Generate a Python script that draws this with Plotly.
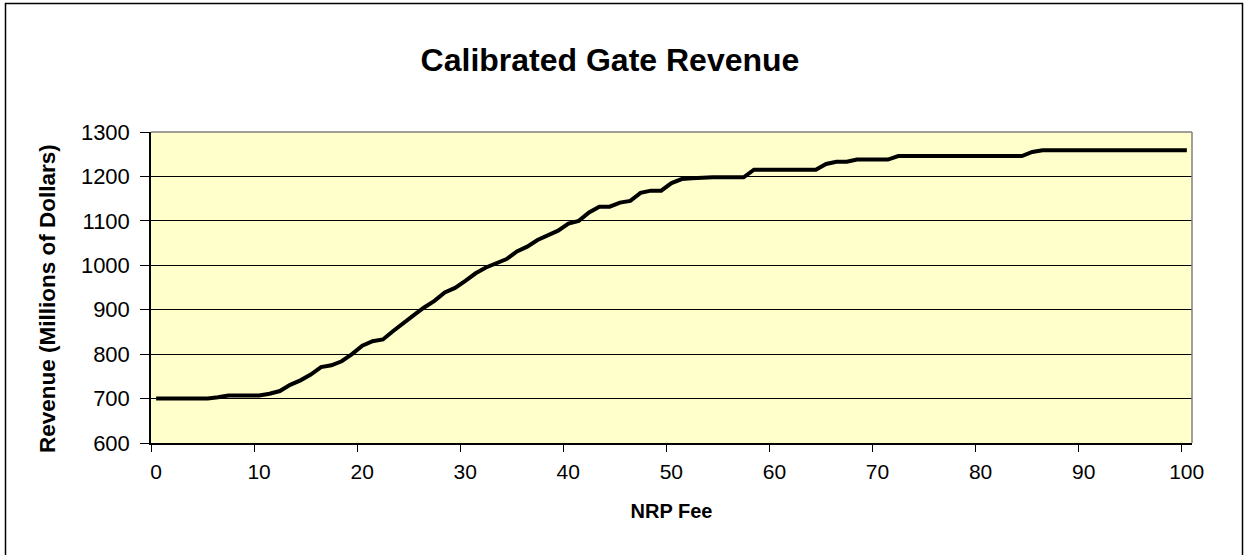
import plotly.graph_objects as go

# NRP fee (x) and calibrated gate revenue, millions of dollars (y)
fee = list(range(0, 101))
revenue = [
    700, 700, 700, 700, 700, 700, 703, 707, 707, 707,   # 0-9
    707, 711, 717, 731, 741, 754, 771, 775, 784, 800,   # 10-19
    819, 829, 833, 852, 871, 888, 905, 920, 939, 949,   # 20-29
    965, 982, 995, 1004, 1014, 1031, 1042, 1057, 1068, 1078,  # 30-39
    1094, 1100, 1119, 1132, 1132, 1141, 1145, 1163, 1168, 1168,  # 40-49
    1185, 1194, 1196, 1198, 1198, 1198, 1198, 1198, 1215, 1215,  # 50-59
    1215, 1215, 1215, 1215, 1215, 1228, 1233, 1233, 1238, 1238,  # 60-69
    1238, 1238, 1246, 1246, 1246, 1246, 1246, 1246, 1246, 1246,  # 70-79
    1246, 1246, 1246, 1246, 1246, 1255, 1259, 1259, 1259, 1259,  # 80-89
    1259, 1259, 1259, 1259, 1259, 1259, 1259, 1259, 1259, 1259,  # 90-99
    1259,                                                        # 100
]
x_labels = [str(v) for v in range(0, 101, 10)]
y_ticks = list(range(600, 1301, 100))

BG = "#FFFFCC"; GR = "#808080"
W, H = 1247, 555
L, R, T, B = 151, 55, 132, 112
pw, ph = W - L - R, H - T - B

fig = go.Figure()
fig.add_trace(go.Scatter(
    x=fee, y=revenue, mode="lines",
    line=dict(color="black", width=4),
    hovertemplate="Fee %{x}: %{y}<extra></extra>"))

fig.update_layout(
    width=W, height=H,
    paper_bgcolor="white", plot_bgcolor=BG,
    font=dict(family="Arial, Liberation Sans", color="black"),
    margin=dict(l=L, r=R, t=T, b=B),
    showlegend=False,
    title=dict(text="<b>Calibrated Gate Revenue</b>", font=dict(size=32),
               x=610 / W, xanchor="center", xref="container",
               y=1 - 60 / H, yanchor="middle", yref="container"),
    # y title placed by hand (sits a bit below the plot centre in the original)
    annotations=[dict(text="<b>Revenue (Millions of Dollars)</b>",
                      textangle=-90, showarrow=False,
                      xref="paper", yref="paper",
                      x=(47 - L) / pw, y=(H - B - 299) / ph,
                      xanchor="center", yanchor="middle",
                      font=dict(size=22.5))],
    # outer frame + grey top/right edges of the plot area
    shapes=[
        dict(type="rect", xref="paper", yref="paper",
             x0=(5.5 - L) / pw, x1=(1242.5 - L) / pw,
             y0=(H - B - 560) / ph, y1=(H - B - 3.5) / ph,
             line=dict(color="black", width=1.5)),
        dict(type="line", xref="paper", yref="paper", x0=0, x1=1, y0=1, y1=1,
             line=dict(color=GR, width=1.5)),
        dict(type="line", xref="paper", yref="paper", x0=1, x1=1, y0=0, y1=1,
             line=dict(color=GR, width=1.5)),
    ])

fig.update_xaxes(
    range=[-0.5, 100.5],
    tickvals=[v - 0.5 for v in range(0, 101, 10)], ticktext=x_labels,
    ticklabelshift=5, ticklabelstandoff=2,
    ticks="outside", ticklen=7, tickcolor="black",
    showline=True, linecolor="black", linewidth=1.5,
    showgrid=False, zeroline=False,
    tickfont=dict(size=21),
    title=dict(text="<b>NRP Fee</b>", font=dict(size=20), standoff=22))
fig.update_yaxes(
    range=[600, 1300], tickvals=y_ticks,
    ticks="outside", ticklen=9, tickcolor="black",
    showline=True, linecolor="black", linewidth=1.5,
    showgrid=True, gridcolor="black", gridwidth=1, zeroline=False,
    tickfont=dict(size=22), ticklabelstandoff=6)

fig.write_html("out.html", config={"displayModeBar": False},
               post_script="document.body.style.margin='0';"
                           "document.body.style.overflow='hidden';")
